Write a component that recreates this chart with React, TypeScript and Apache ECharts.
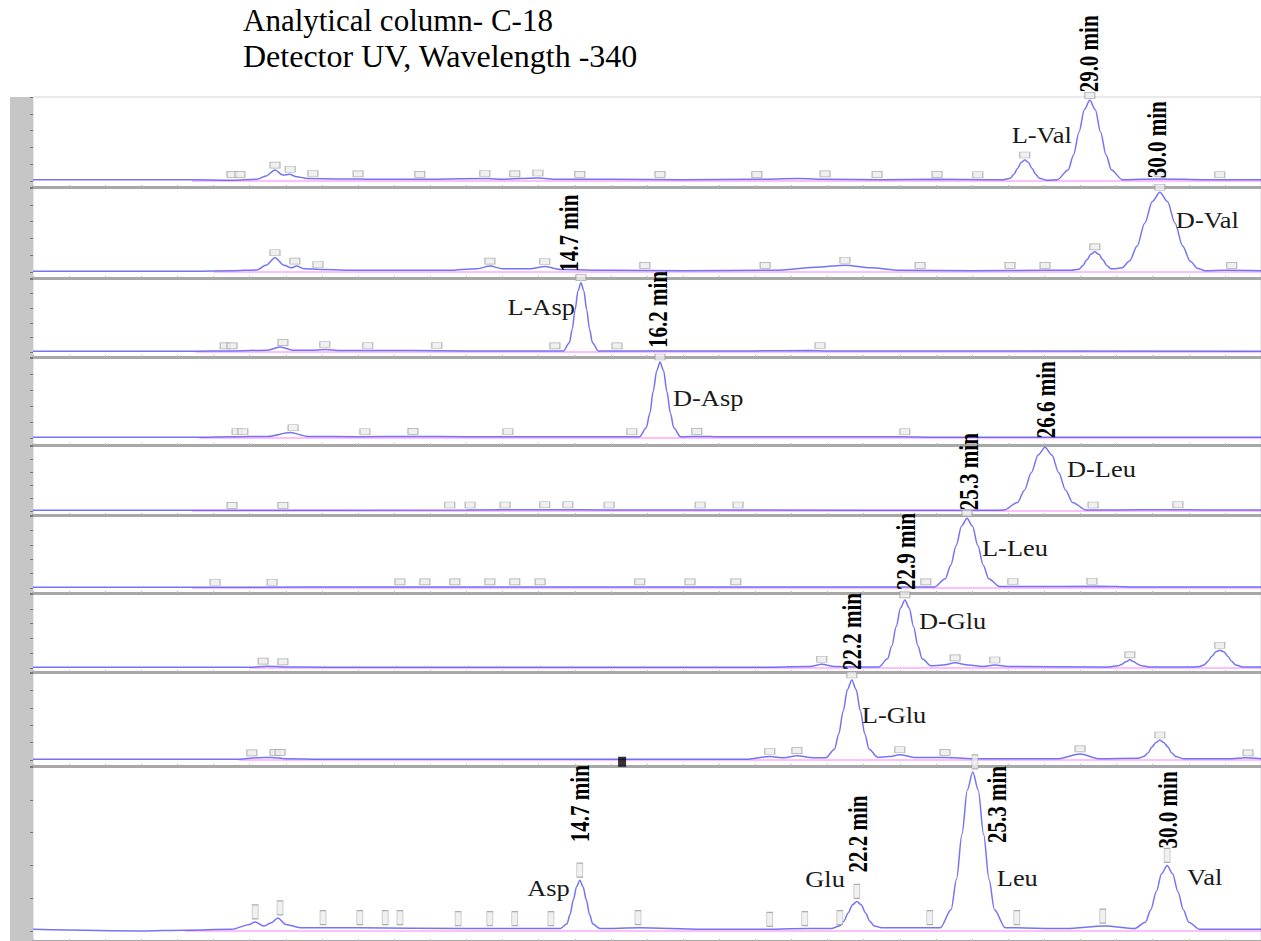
import React, { useEffect, useRef } from "react";
import * as echarts from "echarts";

// ---------- text ----------
const titleLines = ["Analytical column- C-18", "Detector UV, Wavelength -340"];

// ---------- chromatogram traces: [time position, relative response %] ----------
const trace1 = [[0,1.5],[4.4,1.5],[5.5,1],[6.2,2],[6.45,6],[6.7,13],[6.92,7],[7.1,8],[7.3,5],[7.6,3],[8.5,2.5],[9.5,2],[10.5,2],[12.6,3],[13.0,2],[13.5,3],[14.0,3.5],[14.5,2],[16.0,2],[18.0,1.5],[20.0,2],[21.2,3],[22.0,2],[23.5,1.5],[25.0,2],[26.5,1.5],[26.86,1.5],[27.06,3.4],[27.16,8],[27.26,15],[27.36,22],[27.46,25],[27.56,22],[27.66,15],[27.76,8],[27.86,3.4],[28.06,1],[28.36,1.5],[28.66,13],[28.81,31],[28.96,58],[29.11,85],[29.26,96],[29.41,85],[29.56,58],[29.71,31],[29.86,13],[30.16,1.5],[31.2,2.5],[32.5,1.5],[34,1.5]];
const trace2 = [[0,1],[4.5,1],[5.5,1.5],[6.2,2.5],[6.45,8],[6.7,17],[6.95,8],[7.15,5],[7.3,7],[7.5,4],[8.0,3],[9.0,2],[11.5,2],[12.3,4],[12.65,7],[13.0,4],[13.8,4],[14.17,6.5],[14.6,3],[16,2],[18,1.5],[20.5,2],[21.8,6],[22.48,8],[23.2,5],[24,2],[26,1.5],[28.0,2],[28.74,2],[28.96,3.2],[29.07,7.8],[29.18,14.6],[29.29,21],[29.4,24],[29.51,21],[29.62,14.6],[29.73,7.8],[29.84,4],[29.97,4],[30.15,5],[30.36,13],[30.57,31],[30.78,58],[30.99,84],[31.2,95],[31.41,84],[31.62,58],[31.83,31],[32.04,12.8],[32.25,4.2],[32.46,1.5],[33.0,2],[34,1.5]];
const trace3 = [[0,1],[4.5,1],[5.5,1.5],[6.5,2.5],[6.84,7],[7.2,2.5],[7.8,2.5],[8.1,3.5],[8.5,2],[10.5,2],[12.0,1.5],[14.2,1.5],[14.69,1.5],[14.85,12.8],[14.93,31],[15.01,58],[15.09,84],[15.17,95],[15.25,84],[15.33,58],[15.41,31],[15.49,12.8],[15.65,1.5],[16.5,1.5],[20,1.5],[21.5,2],[22,1.5],[34,1]];
const trace4 = [[0,1],[4.6,1],[5.5,1.5],[6.5,2],[7.12,7],[7.6,2],[9,1.5],[10.5,2],[12,1.5],[14.0,1.5],[16.5,1.5],[16.79,1.5],[16.98,12.8],[17.08,31],[17.17,58],[17.27,84],[17.36,95],[17.46,84],[17.55,58],[17.65,31],[17.74,12.8],[17.93,1.5],[18.5,2],[19,1.5],[24,1.5],[25,1],[34,1]];
const trace5 = [[0,1],[4.4,1],[12,1.5],[14,2],[16,1.5],[20,1.5],[26.5,1],[26.88,1.5],[27.26,13.2],[27.45,32],[27.64,59],[27.83,86],[28.02,98],[28.21,86],[28.4,59],[28.59,32],[28.78,13.2],[29.16,1.5],[30,1.5],[31.5,2],[32.5,1.5],[34,1.5]];
const trace6 = [[0,1],[4.4,1],[10.5,1.5],[12.5,1.5],[14.5,1.5],[17,1.5],[20,1.5],[24.5,1.5],[24.96,1.5],[25.26,13],[25.41,31.5],[25.56,59],[25.71,86],[25.86,97],[26.01,86],[26.16,59],[26.31,31.5],[26.46,13],[26.76,2],[27.5,2],[29.5,2.5],[30.5,1.5],[34,1.5]];
const trace7 = [[0,1],[6,1],[6.5,2.5],[7.0,1.5],[8,1],[20,1],[21.5,2],[21.84,5],[22.2,2],[23.0,1.5],[23.42,1.5],[23.66,12.4],[23.78,30],[23.9,56],[24.02,81],[24.14,92],[24.26,81],[24.38,56],[24.5,30],[24.62,12.4],[24.86,3],[25.2,4],[25.53,7],[25.9,4],[26.3,2],[26.63,4],[27.0,2],[29.5,1.5],[29.8,1.5],[30.04,3],[30.15,5],[30.26,8.5],[30.37,11],[30.48,8.5],[30.59,5],[30.7,3],[30.9,1.5],[32.1,1.5],[32.3,2],[32.42,4],[32.53,9],[32.64,16],[32.75,22],[32.86,24],[32.97,22],[33.08,16],[33.19,9],[33.3,4],[33.5,1.5],[34,1.5]];
const trace8 = [[0,1],[5.7,1],[6.2,2.5],[6.6,3],[7.0,1.5],[8,1],[19.8,1],[20.4,4],[20.8,2.5],[21.15,5],[21.6,2.5],[21.95,2.5],[22.19,12.4],[22.31,30],[22.43,56],[22.55,81],[22.67,92],[22.79,81],[22.91,56],[23.03,30],[23.15,12.4],[23.39,3],[23.7,4],[24.0,6],[24.4,3],[25.25,3],[26,1.5],[28.4,1.5],[28.99,7],[29.5,1.5],[30.6,2],[30.76,4],[30.87,8],[30.98,15],[31.09,20],[31.2,23],[31.31,20],[31.42,15],[31.53,8],[31.64,4],[31.85,1.5],[33.2,1.5],[33.55,2.5],[34,1.5]];
const trace9 = [[0,1],[3,0],[4.2,0.5],[5.5,1],[6.0,4],[6.15,5.5],[6.4,3],[6.6,5],[6.78,8],[7.0,4],[7.4,2],[9,2],[12,1.5],[14.6,1.5],[14.78,4.2],[14.87,10],[14.96,19],[15.05,27],[15.14,31],[15.23,27],[15.32,19],[15.41,10],[15.5,4.2],[15.7,1.5],[16.8,2],[18.5,1],[20,1],[21.5,1.5],[22.1,1.5],[22.33,3],[22.45,6],[22.57,11],[22.69,16],[22.81,18],[22.93,16],[23.05,11],[23.17,6],[23.29,3],[23.5,2],[24.5,2],[25.12,2],[25.42,13],[25.57,31.5],[25.72,59],[25.87,86],[26.02,97],[26.17,86],[26.32,59],[26.47,31.5],[26.62,13],[26.92,2],[28.6,1.5],[29.68,3],[30.5,1.5],[30.8,5.4],[30.95,13],[31.1,24],[31.25,35],[31.4,40],[31.55,35],[31.7,24],[31.85,13],[32.0,5.4],[32.3,1],[34,1]];
const traces = [trace1, trace2, trace3, trace4, trace5, trace6, trace7, trace8, trace9];

// integration baseline start time per run
const baselineStarts = [4.4, 5.0, 4.5, 4.6, 4.4, 4.4, 6.0, 5.7, 4.2];

// small peak-tag boxes per run: [time, response]
const tags1 = [[5.51,2],[5.73,2],[6.70,13],[7.12,8],[7.75,3],[9.0,2.5],[10.71,2],[12.51,3],[13.34,2.5],[13.98,3.5],[15.14,2],[17.36,2],[20.04,2],[21.93,2.5],[23.37,2],[25.03,2],[26.16,1.5],[27.46,25],[29.26,96],[31.20,2.5],[32.86,1.5]];
const tags2 = [[6.70,17],[7.25,7],[7.89,3],[12.65,7],[14.17,6.5],[16.94,2],[20.27,2],[22.48,8],[24.56,2],[27.05,2],[28.02,2],[29.40,24],[31.20,95],[33.19,2]];
const tags3 = [[5.32,1.5],[5.51,1.5],[6.92,6],[8.08,3.5],[9.27,2],[11.18,2],[14.45,1.5],[15.17,95],[16.17,1.5],[21.79,2]];
const tags4 = [[5.65,1.5],[5.81,1.5],[7.2,6.5],[9.19,1.5],[10.52,2],[13.15,1.5],[16.58,1.5],[17.36,95],[18.38,2],[24.14,1.5]];
const tags5 = [[5.51,1],[6.92,1],[11.54,1.5],[12.10,1.5],[13.07,1.5],[14.17,2],[14.81,2],[15.95,1.5],[18.47,1.5],[19.52,1.5],[29.35,1.5],[31.70,2]];
const tags6 = [[5.04,1],[6.62,1],[10.16,1.5],[10.85,1.5],[11.68,1.5],[12.65,1.5],[13.34,1.5],[14.04,1.5],[16.80,1.5],[18.19,1.5],[19.46,1.5],[24.72,1.5],[25.86,97],[27.13,2],[29.32,2.5]];
const tags7 = [[6.37,2.5],[6.92,1.5],[21.84,5],[24.14,92],[25.53,7],[26.63,4],[30.37,11],[32.86,24]];
const tags8 = [[6.06,2.5],[6.70,3],[6.84,3],[20.40,4],[21.15,5],[22.67,92],[24.0,6],[25.25,3],[28.99,7],[31.2,23],[33.64,2.5]];
const tags9 = [[6.15,5.5],[6.84,8],[8.03,2],[9.05,2],[9.75,2],[10.16,2],[11.77,1.5],[12.65,1.5],[13.34,1.5],[14.34,1.5],[15.14,31],[16.75,2],[20.40,1],[21.37,1.5],[22.34,2],[22.81,18],[24.83,2],[26.08,97],[27.24,2],[29.62,3],[31.40,40]];
const tags = [tags1, tags2, tags3, tags4, tags5, tags6, tags7, tags8, tags9];

// injection marker seen on run 8
const markerRun8 = [[16.31, -2]];

// identified peaks
const compoundNames = ["L-Val", "D-Val", "L-Asp", "D-Asp", "D-Leu", "L-Leu", "D-Glu", "L-Glu", "Asp", "Glu", "Leu", "Val"];
const compoundRun = [0, 1, 2, 3, 4, 5, 6, 7, 8, 8, 8, 8];
const compoundApexT = [29.26, 31.2, 15.17, 17.36, 28.02, 25.86, 24.14, 22.67, 15.14, 22.81, 26.02, 31.4];
const compoundApexY = [96, 95, 95, 95, 98, 97, 92, 92, 31, 18, 97, 40];
const retentionLabels = ["29.0 min", "30.0 min", "14.7 min", "16.2 min", "26.6 min", "25.3 min", "22.9 min", "22.2 min", "14.7 min", "22.2 min", "25.3 min", "30.0 min"];

// ---------- layout (pixels) ----------
const PANELS = [
  { top: 97, base: 181, bottom: 187 },
  { top: 188, base: 272, bottom: 278 },
  { top: 279, base: 352, bottom: 357 },
  { top: 358, base: 438, bottom: 445 },
  { top: 446, base: 511, bottom: 515 },
  { top: 516, base: 588, bottom: 593 },
  { top: 594, base: 668, bottom: 672 },
  { top: 673, base: 760, bottom: 766 },
  { top: 767, base: 931, bottom: 941 },
];
const GRID_LEFT = 33;
const X_MAX = 34;
const NAME_POS = [
  { align: "right", dx: -18, dy: 35 },
  { align: "left", dx: 16, dy: 28 },
  { align: "right", dx: -6, dy: 24 },
  { align: "left", dx: 13, dy: 36 },
  { align: "left", dx: 22, dy: 22 },
  { align: "left", dx: 15, dy: 30 },
  { align: "left", dx: 14, dy: 21 },
  { align: "left", dx: 10, dy: 35 },
  { align: "right", dx: -10, dy: 8 },
  { align: "right", dx: -12, dy: -23 },
  { align: "left", dx: 24, dy: 106 },
  { align: "left", dx: 20, dy: 12 },
];
const RT_POS = [
  { dx: -1, gap: 8 },
  { dx: -3, gap: 14 },
  { dx: -13, gap: 11 },
  { dx: -3, gap: 14 },
  { dx: 0, gap: 9 },
  { dx: 1, gap: 8 },
  { dx: 1, gap: 10 },
  { dx: 0, gap: 10 },
  { dx: 0, gap: 38 },
  { dx: 1, gap: 29 },
  { dx: 24, gap: -71 },
  { dx: 0, gap: 17 },
];

const SERIF = '"Liberation Serif", "Times New Roman", serif';
const BLUE = "#5c5cf2";
const PINK = "#ff80ff";

export default function App() {
  const ref = useRef<HTMLDivElement>(null);

  useEffect(() => {
    if (!ref.current) return;
    const chart = echarts.init(ref.current, undefined, { renderer: "svg" });

    const grids: any[] = [];
    const xAxes: any[] = [];
    const yAxes: any[] = [];
    const series: any[] = [];

    PANELS.forEach((p, i) => {
      const above = p.base - p.top;
      const below = p.bottom - p.base;
      const yMin = -(below / above) * 100;
      grids.push({
        left: GRID_LEFT,
        right: 0,
        top: p.top,
        height: p.bottom - p.top,
        show: true,
        borderColor: "#d4d4d4",
        borderWidth: 1,
        backgroundColor: "#fff",
      });
      xAxes.push({
        type: "value",
        gridIndex: i,
        min: 0,
        max: X_MAX,
        interval: 1,
        axisLine: { show: true, onZero: false, lineStyle: { color: "#a8a8a8", width: 3 } },
        axisTick: { show: true, inside: true, length: 2, lineStyle: { color: "#bbb" } },
        axisLabel: { show: false },
        splitLine: { show: false },
      });
      yAxes.push({
        type: "value",
        gridIndex: i,
        min: yMin,
        max: 100,
        axisLine: { show: false },
        axisTick: { show: true, length: 3, lineStyle: { color: "#777" } },
        axisLabel: { show: false },
        splitLine: { show: false },
      });
      series.push({
        type: "line",
        name: "baseline" + (i + 1),
        xAxisIndex: i,
        yAxisIndex: i,
        data: [[baselineStarts[i], 0], [X_MAX, 0]],
        showSymbol: false,
        lineStyle: { color: PINK, width: 1.2 },
        z: 2,
      });
      series.push({
        type: "line",
        name: "run" + (i + 1),
        xAxisIndex: i,
        yAxisIndex: i,
        data: traces[i],
        showSymbol: false,
        smooth: 0.3,
        smoothMonotone: "x",
        lineStyle: { color: BLUE, width: 1.5, opacity: 0.85 },
        z: 3,
      });
      const vertical = i === 8;
      series.push({
        type: "scatter",
        name: "tags" + (i + 1),
        xAxisIndex: i,
        yAxisIndex: i,
        data: tags[i],
        symbol: "rect",
        symbolSize: vertical ? [6, 14] : [10, 6],
        symbolOffset: vertical ? [0, -10] : [0, -5],
        itemStyle: { color: "#ececec", borderColor: "#9a9a9a", borderWidth: 0.8 },
        z: 4,
      });
    });

    series.push({
      type: "scatter",
      name: "marker",
      xAxisIndex: 7,
      yAxisIndex: 7,
      data: markerRun8,
      symbol: "rect",
      symbolSize: [8, 10],
      itemStyle: { color: "#000" },
      z: 5,
    });

    chart.setOption({
      animation: false,
      backgroundColor: "#fff",
      grid: grids,
      xAxis: xAxes,
      yAxis: yAxes,
      series,
    });

    const graphics: any[] = [
      {
        type: "rect",
        shape: { x: 10, y: 97, width: GRID_LEFT - 10, height: 941 - 97 },
        style: { fill: "#c6c6c6" },
        z: 0,
      },
      {
        type: "text",
        x: 243,
        y: 5,
        style: { text: titleLines[0], fontFamily: SERIF, fontSize: 31, fill: "#000", align: "left", verticalAlign: "top" },
      },
      {
        type: "text",
        x: 243,
        y: 56,
        style: { text: titleLines[1], fontFamily: SERIF, fontSize: 32, fill: "#000", align: "left", verticalAlign: "middle" },
      },
    ];

    compoundNames.forEach((name, k) => {
      const run = compoundRun[k];
      const pt = chart.convertToPixel({ gridIndex: run }, [compoundApexT[k], compoundApexY[k]]) as number[];
      const np = NAME_POS[k];
      graphics.push({
        type: "text",
        x: pt[0] + np.dx,
        y: pt[1] + np.dy,
        scaleX: 1.1,
        z: 10,
        style: { text: name, fontFamily: SERIF, fontSize: 24, fill: "#1a1a1a", align: np.align, verticalAlign: "middle" },
      });
      const rp = RT_POS[k];
      graphics.push({
        type: "text",
        x: pt[0] + rp.dx,
        y: pt[1] - rp.gap,
        rotation: Math.PI / 2,
        scaleX: 0.75,
        z: 10,
        style: {
          text: retentionLabels[k],
          fontFamily: SERIF,
          fontSize: 28,
          fontWeight: "bold",
          fill: "#000",
          align: "left",
          verticalAlign: "middle",
        },
      });
    });

    chart.setOption({ graphic: graphics });

    return () => chart.dispose();
  }, []);

  return (
    <div
      ref={ref}
      style={{ position: "absolute", left: 0, top: 0, width: 1261, height: 941, background: "#fff" }}
    />
  );
}
